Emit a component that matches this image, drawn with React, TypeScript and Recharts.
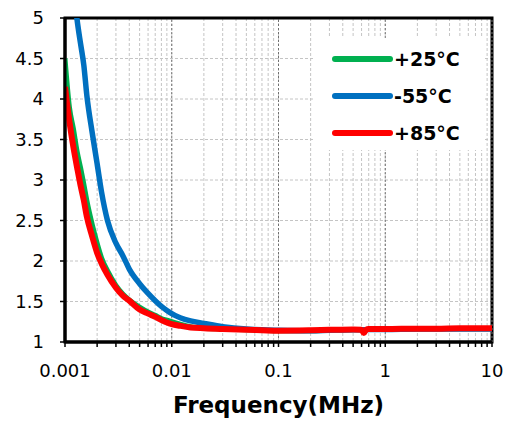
import {
  CartesianGrid,
  Legend,
  Line,
  LineChart,
  ReferenceArea,
  ReferenceLine,
  XAxis,
  YAxis,
} from "recharts";

const frequencias = [
  0.001, 0.0011, 0.0012, 0.0013, 0.0014, 0.0015, 0.0016, 0.0018, 0.002,
  0.0022, 0.0025, 0.003, 0.0035, 0.004, 0.005, 0.006, 0.007, 0.008, 0.009,
  0.01, 0.012, 0.015, 0.02, 0.03, 0.05, 0.07, 0.1, 0.2, 0.3, 0.5, 0.6, 0.63,
  0.66, 0.7, 1, 2, 3, 5, 10,
];

const valores25 = [
  4.5, 3.9, 3.63, 3.35, 3.15, 2.95, 2.75, 2.45, 2.22, 2.04, 1.88, 1.7, 1.59,
  1.52, 1.43, 1.37, 1.33, 1.29, 1.27, 1.25, 1.22, 1.19, 1.17, 1.16, 1.15,
  1.145, 1.14, 1.14, 1.145, 1.15, 1.15, 1.15, 1.15, 1.155, 1.155, 1.16, 1.16,
  1.165, 1.165,
];

const valores55 = [
  6.2, 5.75, 5.4, 4.97, 4.68, 4.42, 4.05, 3.58, 3.2, 2.85, 2.5, 2.22, 2.06,
  1.9, 1.72, 1.6, 1.51, 1.44, 1.39, 1.35, 1.3, 1.26, 1.23, 1.19, 1.16, 1.15,
  1.145, 1.14, 1.145, 1.15, 1.15, 1.15, 1.15, 1.155, 1.155, 1.16, 1.16, 1.16,
  1.16,
];

const valores85 = [
  4.15, 3.72, 3.4, 3.15, 2.93, 2.75, 2.55, 2.3, 2.1, 1.97, 1.83, 1.67, 1.57,
  1.51, 1.4, 1.35, 1.31, 1.27, 1.24, 1.22, 1.2, 1.18, 1.17, 1.16, 1.15, 1.145,
  1.14, 1.145, 1.15, 1.155, 1.15, 1.11, 1.15, 1.16, 1.16, 1.165, 1.165, 1.17,
  1.17,
];

const nomes = ["+25°C", "-55°C", "+85°C"];
const decadas = [0.001, 0.01, 0.1, 1, 10];
const ticksY = [1, 1.5, 2, 2.5, 3, 3.5, 4, 4.5, 5];
const ticksX = decadas.flatMap((d) =>
  d === 10
    ? [10]
    : [1, 2, 3, 4, 5, 6, 7, 8, 9].map((k) => Number((k * d).toPrecision(2)))
);

const dados = frequencias.map((f, i) => ({
  f,
  t25: valores25[i],
  t55: valores55[i],
  t85: valores85[i],
}));

const fonte = "DejaVu Sans";

const Legenda = ({ payload }: any) => {
  const itens = [...(payload || [])].sort(
    (a: any, b: any) => nomes.indexOf(a.value) - nomes.indexOf(b.value)
  );
  return (
    <div style={{ paddingTop: 2 }}>
      {itens.map((item: any) => (
        <div
          key={item.value}
          style={{ display: "flex", alignItems: "center", height: 37 }}
        >
          <svg width={79} height={10}>
            <line
              x1={20}
              x2={75}
              y1={5}
              y2={5}
              stroke={item.color}
              strokeWidth={6}
              strokeLinecap="round"
            />
          </svg>
          <span
            style={{
              fontFamily: fonte,
              fontWeight: "bold",
              fontSize: 19,
              color: "#000",
            }}
          >
            {item.value}
          </span>
        </div>
      ))}
    </div>
  );
};

export default function App() {
  return (
    <div style={{ position: "absolute", left: 0, top: 0 }}>
      <LineChart
        width={508}
        height={423}
        data={dados}
        margin={{ top: 18, right: 16, left: 0, bottom: 0 }}
        style={{ fontFamily: fonte }}
      >
        <CartesianGrid stroke="#c4c4c4" strokeDasharray="3 2" />
        {decadas.map((d) => (
          <ReferenceLine
            key={d}
            x={d}
            stroke="#707070"
            strokeDasharray="2 2"
          />
        ))}
        <XAxis
          dataKey="f"
          type="number"
          scale="log"
          domain={[0.001, 10]}
          allowDataOverflow
          ticks={ticksX}
          interval={0}
          tickFormatter={(v: number) => (decadas.includes(v) ? String(v) : "")}
          height={81}
          stroke="#000"
          axisLine={{ stroke: "#000", strokeWidth: 3 }}
          tickLine={{ stroke: "#000", strokeWidth: 1.5 }}
          tickSize={5}
          tickMargin={17}
          tick={{ fill: "#000", fontSize: 18 }}
          label={{
            value: "Frequency(MHz)",
            position: "insideBottom",
            offset: 10,
            fill: "#000",
            fontSize: 23,
            fontWeight: "bold",
          }}
        />
        <YAxis
          type="number"
          domain={[1, 5]}
          allowDataOverflow
          ticks={ticksY}
          interval={0}
          width={65}
          stroke="#000"
          axisLine={{ stroke: "#000", strokeWidth: 3 }}
          tickLine={{ stroke: "#000", strokeWidth: 1.5 }}
          tickSize={5}
          tickMargin={16}
          tick={{ fill: "#000", fontSize: 18 }}
        />
        <Line
          dataKey="t25"
          name={nomes[0]}
          stroke="#00B050"
          strokeWidth={5}
          type="monotone"
          dot={false}
          isAnimationActive={false}
        />
        <Line
          dataKey="t55"
          name={nomes[1]}
          stroke="#0070C0"
          strokeWidth={5.5}
          type="monotone"
          dot={false}
          isAnimationActive={false}
        />
        <Line
          dataKey="t85"
          name={nomes[2]}
          stroke="#FF0000"
          strokeWidth={6}
          type="monotone"
          dot={false}
          isAnimationActive={false}
        />
        <ReferenceArea
          x1={0.001}
          x2={10}
          y1={1}
          y2={5}
          fill="none"
          stroke="#000"
          strokeWidth={3}
        />
        <Legend
          layout="vertical"
          align="center"
          verticalAlign="middle"
          itemSorter={null as any}
          content={<Legenda />}
          wrapperStyle={{
            left: 315,
            top: 38,
            width: 168,
            height: 112,
            backgroundColor: "#fff",
          }}
        />
      </LineChart>
    </div>
  );
}
